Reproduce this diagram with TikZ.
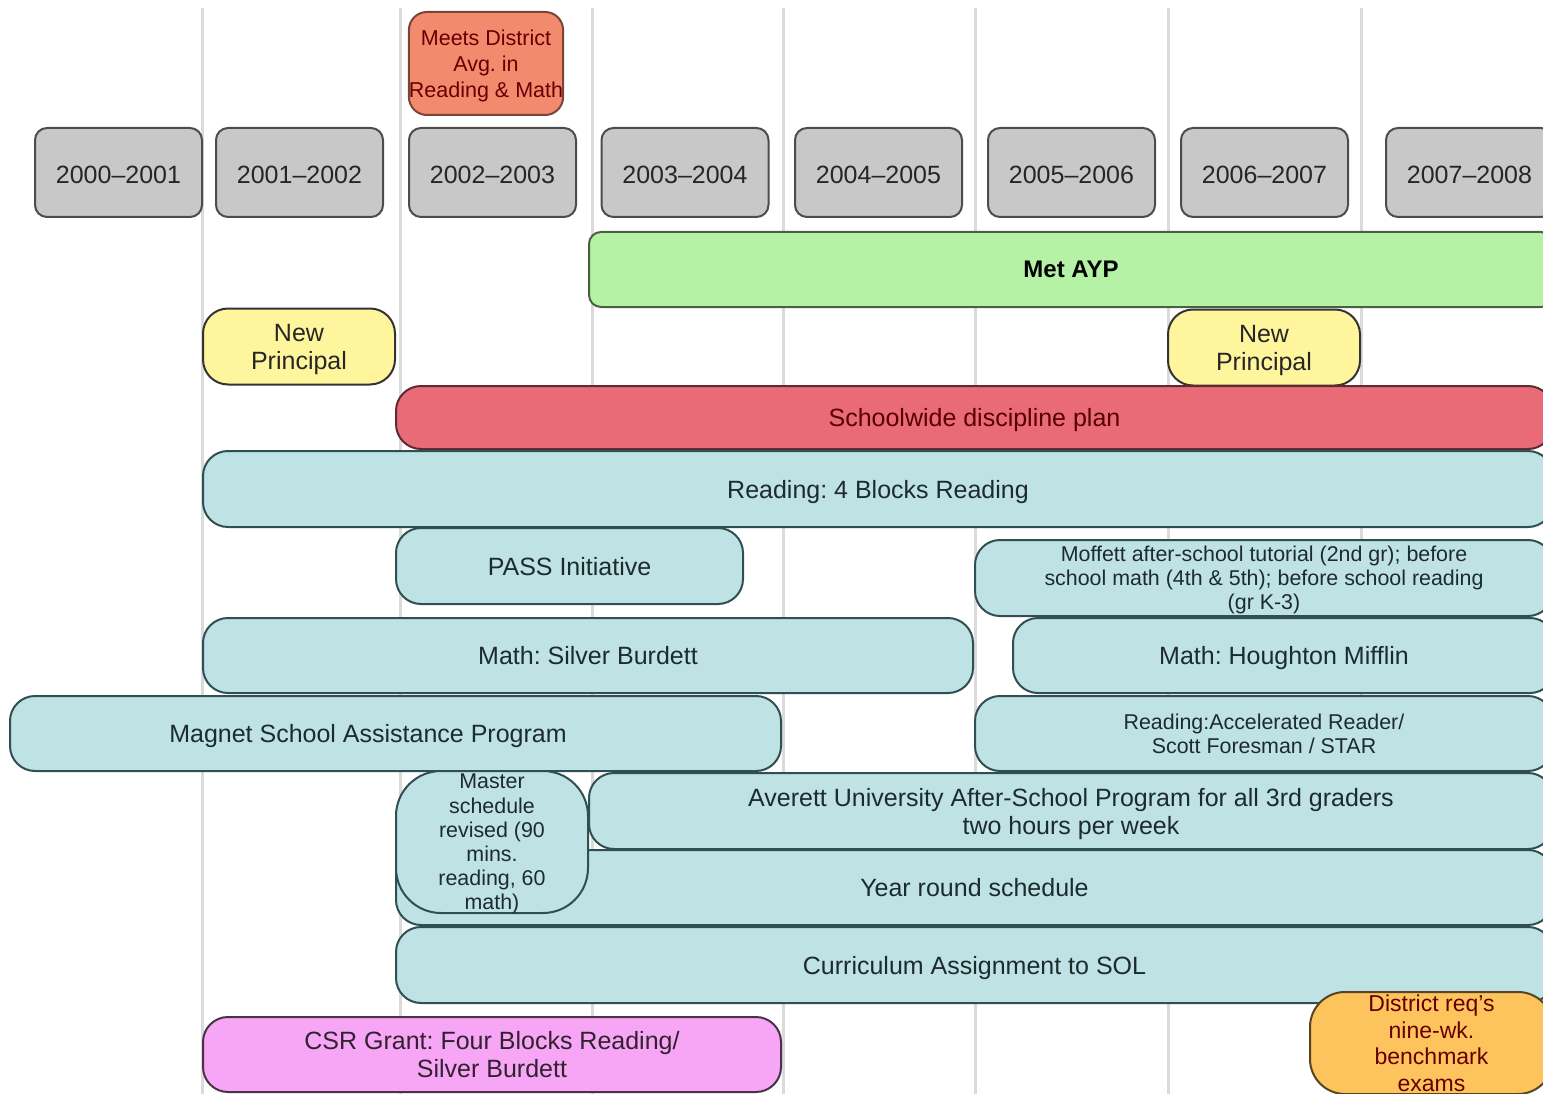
\documentclass[tikz,border=0pt]{standalone}
\usepackage{fontspec}
\setmainfont{Liberation Sans}
\usepackage{tikz}
\usetikzlibrary{shapes.geometric}
\definecolor{yeargray}{HTML}{C8C8C8}
\definecolor{meetsred}{HTML}{F28B6E}
\definecolor{aypgreen}{HTML}{B5F2A6}
\definecolor{newyellow}{HTML}{FFF59D}
\definecolor{planred}{HTML}{EA6B78}
\definecolor{barblue}{HTML}{BFE2E5}
\definecolor{csrpink}{HTML}{F6A6F4}
\definecolor{benchorange}{HTML}{FDC35C}
\definecolor{bardraw}{HTML}{2F4F52}
\definecolor{bartext}{HTML}{1D2B2D}
\tikzstyle{gridline} = [line width=3pt, draw=black!14]
\tikzstyle{yearbox} = [rectangle, rounded corners=12pt, minimum width=167pt, minimum height=89pt, inner sep=0pt, text height=23pt, text depth=0pt, draw=black!70, line width=2pt, fill=yeargray, text=black!85, font=\fontsize{25}{28}\selectfont]
\tikzstyle{bar} = [rectangle, rounded corners=25pt, minimum height=75pt, inner sep=0pt, text depth=-4pt, align=center, draw=bardraw, line width=2pt, fill=barblue, text=bartext, font=\fontsize{25}{28}\selectfont]
\tikzstyle{smallbar} = [bar, font=\fontsize{21.4}{24.2}\selectfont]
\tikzstyle{principal} = [bar, minimum width=192pt, minimum height=76pt, fill=newyellow, draw=black!80, text=black!85]

\begin{document}
\frenchspacing
\begin{tikzpicture}[x=1pt, y=-1pt]
\useasboundingbox (0,0) rectangle (1543,1094);
\clip (0,0) rectangle (1543,1094);
% column lines
\draw [gridline] (202,8) -- (202,1094);
\draw [gridline] (400,8) -- (400,1094);
\draw [gridline] (592,8) -- (592,1094);
\draw [gridline] (783,8) -- (783,1094);
\draw [gridline] (975,8) -- (975,1094);
\draw [gridline] (1168,8) -- (1168,1094);
\draw [gridline] (1361,8) -- (1361,1094);
% school years
\node (yr2000) [yearbox] at (118.5,172.5) {2000--2001};
\node (yr2001) [yearbox] at (299.5,172.5) {2001--2002};
\node (yr2002) [yearbox] at (492.5,172.5) {2002--2003};
\node (yr2003) [yearbox] at (685,172.5) {2003--2004};
\node (yr2004) [yearbox] at (878.5,172.5) {2004--2005};
\node (yr2005) [yearbox] at (1071.5,172.5) {2005--2006};
\node (yr2006) [yearbox] at (1264.5,172.5) {2006--2007};
\node (yr2007) [yearbox] at (1469.5,172.5) {2007--2008};
\node (meets) [bar, rounded corners=18pt, minimum width=154pt, minimum height=103pt, fill=meetsred, draw=meetsred!50!black, text=red!40!black, font=\fontsize{21.5}{26}\selectfont] at (486,63.5) {Meets District\\Avg. in\\Reading \& Math};
% events
\node (ayp) [bar, rounded corners=12pt, minimum width=964pt, fill=aypgreen, draw=aypgreen!40!black, text=black, font=\fontsize{24}{28}\selectfont\bfseries] at (1071,269.5) {Met AYP};
\node (principalA) [principal] at (299,346.5) {New\\Principal};
\node (principalB) [principal] at (1264,347.5) {New\\Principal};
\node (discipline) [bar, minimum width=1157pt, minimum height=63pt, fill=planred, draw=planred!40!black, text=red!35!black] at (974.5,417.5) {Schoolwide discipline plan};
% programs
\node (fourblocks) [bar, minimum width=1350pt, minimum height=76pt] at (878,489) {Reading: 4 Blocks Reading};
\node (pass) [bar, minimum width=347pt, minimum height=76pt] at (569.5,566) {PASS Initiative};
\node (moffett) [smallbar, minimum width=578pt, minimum height=76pt] at (1264,578) {Moffett after-school tutorial (2nd gr); before\\school math (4th \& 5th); before school reading\\(gr K-3)};
\node (silver) [bar, minimum width=770pt] at (588,655.5) {Math: Silver Burdett};
\node (houghton) [bar, minimum width=542pt] at (1284,655.5) {Math: Houghton Mifflin};
\node (magnet) [bar, minimum width=771pt] at (395.5,733.5) {\hspace*{-55pt}Magnet School Assistance Program};
\node (accreader) [smallbar, minimum width=578pt] at (1264,733.5) {Reading:Accelerated Reader/\\Scott Foresman / STAR};
\node (averett) [bar, minimum width=964pt, minimum height=76pt] at (1071,811) {Averett University After-School Program for all 3rd graders\\two hours per week};
\node (yearround) [bar, minimum width=1157pt] at (974.5,887.5) {Year round schedule};
\node (master) [smallbar, rounded corners=45pt, minimum width=192pt, minimum height=142pt] at (492,842) {Master\\schedule\\revised (90\\mins.\\reading, 60\\math)};
\node (sol) [bar, minimum width=1157pt, minimum height=76pt] at (974.5,965) {Curriculum Assignment to SOL};
\node (csr) [bar, minimum width=578pt, fill=csrpink, draw=csrpink!30!black, text=csrpink!20!black] at (492,1054.5) {CSR Grant: Four Blocks Reading/\\Silver Burdett};
\node (benchmark) [bar, rounded corners=35pt, minimum width=243pt, minimum height=102pt, fill=benchorange, draw=benchorange!35!black, text=red!40!black, font=\fontsize{23}{26.5}\selectfont] at (1431.5,1043) {District req's\\nine-wk.\\benchmark\\exams};
\end{tikzpicture}
\end{document}
